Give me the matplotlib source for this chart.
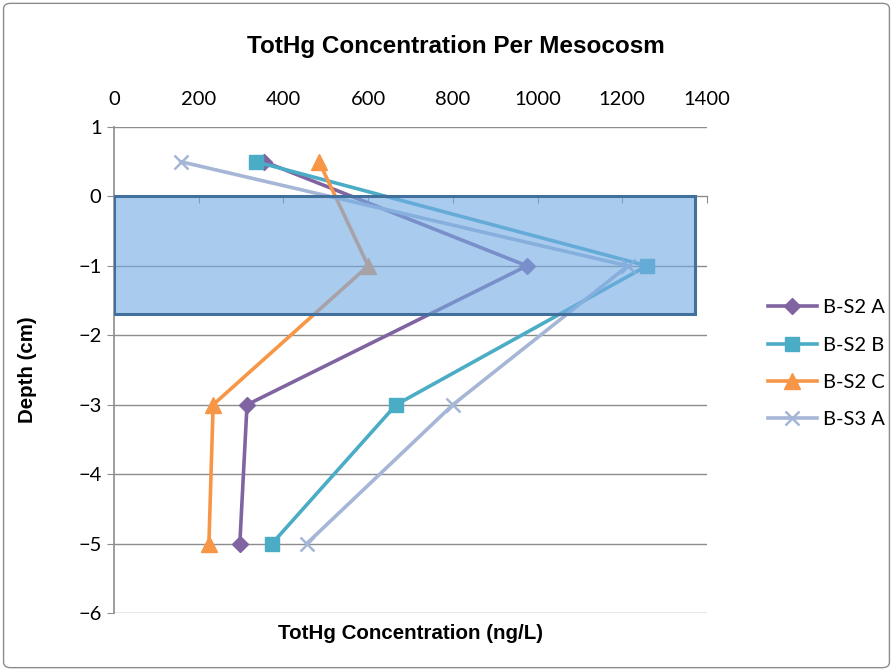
import matplotlib.pyplot as plt
from matplotlib.patches import Rectangle, FancyBboxPatch

plt.rcParams['font.family'] = ['Lato', 'DejaVu Sans']
bold_font = ['Liberation Sans', 'DejaVu Sans']

# depths (cm)
depth = [0.5, -1, -3, -5]

# TotHg concentration (ng/L) per mesocosm
bs2_a = [355, 975, 314, 297]
bs2_b = [335, 1258, 666, 373]
bs2_c = [484, 600, 234, 224]
bs3_a = [158, 1213, 800, 455]

labels = ['B-S2 A', 'B-S2 B', 'B-S2 C', 'B-S3 A']

fig = plt.figure(figsize=(8.93, 6.71), dpi=100)
ax = fig.add_axes([0.1277, 0.0864, 0.664, 0.7243])

grid_c = '#8c8c8c'

ax.plot(bs2_a, depth, color='#8064A2', lw=2.6, marker='D', ms=8.5, label=labels[0], zorder=3)
ax.plot(bs2_b, depth, color='#4BACC6', lw=2.6, marker='s', ms=10, label=labels[1], zorder=3)
ax.plot(bs2_c, depth, color='#F79646', lw=2.6, marker='^', ms=11, label=labels[2], zorder=3)
ax.plot(bs3_a, depth, color='#A5B6D6', lw=2.6, marker='x', ms=10, mew=1.8, label=labels[3], zorder=3)

# shaded zone
ax.add_patch(Rectangle((0, -1.69), 1372, 1.69, facecolor=(0.46, 0.67, 0.89, 0.62),
                       edgecolor='#41709C', lw=2.2, zorder=4))

ax.set_xlim(0, 1400)
ax.set_ylim(-6, 1)
ax.set_xticks(range(0, 1401, 200))
ax.set_yticks(range(-6, 2))

for y in range(-6, 2):
    if y != 0:
        ax.axhline(y, color=grid_c, lw=1, zorder=1)

for s in ['top', 'right']:
    ax.spines[s].set_visible(False)
ax.spines['left'].set_color(grid_c)
ax.spines['left'].set_linewidth(1.2)
ax.spines['bottom'].set_position(('data', 0))
ax.spines['bottom'].set_color(grid_c)
ax.spines['bottom'].set_linewidth(1)
ax.spines['bottom'].set_zorder(1)

ax.tick_params(axis='x', bottom=True, top=False, labelbottom=False, labeltop=True,
               direction='out', length=5, color=grid_c, labelsize=14.5, pad=9)
ax.tick_params(axis='y', direction='out', length=5, color=grid_c, labelsize=14.5, pad=4)

fig.text(0.51, 0.93, 'TotHg Concentration Per Mesocosm', ha='center', va='center',
         fontsize=17.5, fontweight='bold', family=bold_font)
fig.text(0.46, 0.056, 'TotHg Concentration (ng/L)', ha='center', va='center',
         fontsize=14.8, fontweight='bold', family=bold_font)
fig.text(0.031, 0.449, 'Depth (cm)', ha='center', va='center', rotation=90,
         fontsize=14.8, fontweight='bold', family=bold_font)

fig.legend(loc='center left', bbox_to_anchor=(0.84, 0.458), frameon=False, fontsize=14.5,
           handlelength=2.4, labelspacing=1.0, handletextpad=0.3)

# chart border
fig.patches.append(FancyBboxPatch((0.004, 0.005), 0.992, 0.99, boxstyle='round,pad=0,rounding_size=0.008',
                                  transform=fig.transFigure, fill=False, edgecolor='#8c8c8c', lw=1))

fig.savefig('out.png', dpi=100)
